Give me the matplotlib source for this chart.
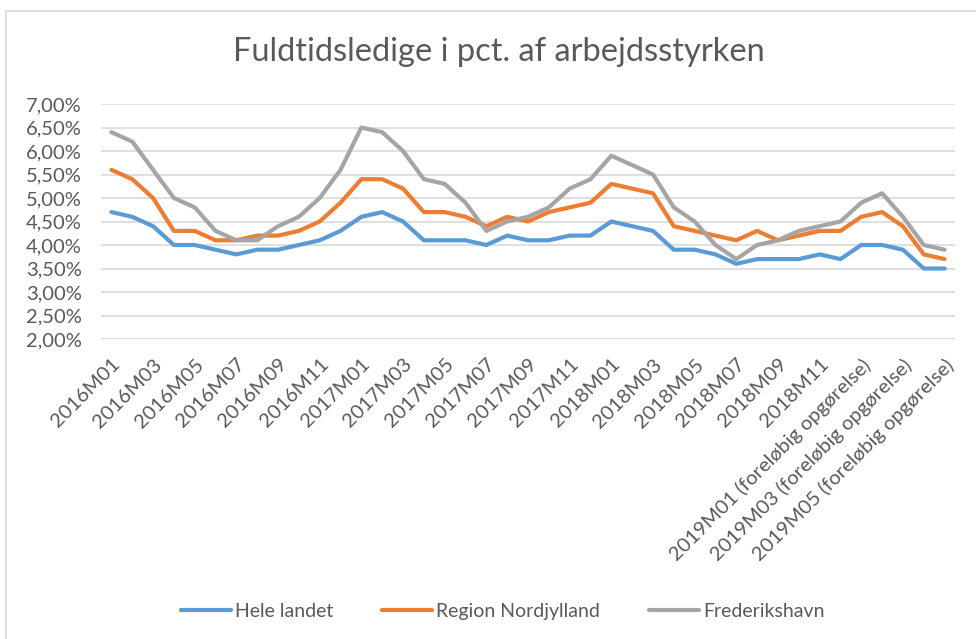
import matplotlib
matplotlib.use("Agg")
import matplotlib.pyplot as plt
from matplotlib.patches import Rectangle
from matplotlib.ticker import FuncFormatter

plt.rcParams['font.family'] = ['Lato', 'DejaVu Sans']

# months 2016M01 .. 2019M05
months = ([f"2016M{m:02d}" for m in range(1, 13)]
          + [f"2017M{m:02d}" for m in range(1, 13)]
          + [f"2018M{m:02d}" for m in range(1, 13)]
          + [f"2019M{m:02d} (foreløbig opgørelse)" for m in range(1, 6)])

hele_landet = [4.7, 4.6, 4.4, 4.0, 4.0, 3.9, 3.8, 3.9, 3.9, 4.0, 4.1, 4.3,
               4.6, 4.7, 4.5, 4.1, 4.1, 4.1, 4.0, 4.2, 4.1, 4.1, 4.2, 4.2,
               4.5, 4.4, 4.3, 3.9, 3.9, 3.8, 3.6, 3.7, 3.7, 3.7, 3.8, 3.7,
               4.0, 4.0, 3.9, 3.5, 3.5]
nordjylland = [5.6, 5.4, 5.0, 4.3, 4.3, 4.1, 4.1, 4.2, 4.2, 4.3, 4.5, 4.9,
               5.4, 5.4, 5.2, 4.7, 4.7, 4.6, 4.4, 4.6, 4.5, 4.7, 4.8, 4.9,
               5.3, 5.2, 5.1, 4.4, 4.3, 4.2, 4.1, 4.3, 4.1, 4.2, 4.3, 4.3,
               4.6, 4.7, 4.4, 3.8, 3.7]
frederikshavn = [6.4, 6.2, 5.6, 5.0, 4.8, 4.3, 4.1, 4.1, 4.4, 4.6, 5.0, 5.6,
                 6.5, 6.4, 6.0, 5.4, 5.3, 4.9, 4.3, 4.5, 4.6, 4.8, 5.2, 5.4,
                 5.9, 5.7, 5.5, 4.8, 4.5, 4.0, 3.7, 4.0, 4.1, 4.3, 4.4, 4.5,
                 4.9, 5.1, 4.6, 4.0, 3.9]

series_names = ["Hele landet", "Region Nordjylland", "Frederikshavn"]
colors = ["#5B9BD5", "#ED7D31", "#A5A5A5"]
text_col = "#595959"

fig = plt.figure(figsize=(9.76, 6.39), dpi=100)
ax = fig.add_axes([101/976, 1-339/639, (955-101)/976, (339-104)/639])

x = list(range(len(months)))
for vals, name, c in zip([hele_landet, nordjylland, frederikshavn], series_names, colors):
    ax.plot(x, vals, color=c, lw=3.0, label=name, solid_capstyle='round', solid_joinstyle='round')

ax.set_xlim(-0.5, len(months) - 0.5)
ax.set_ylim(2.0, 7.0)
ax.set_yticks([2.0 + 0.5*i for i in range(11)])
ax.yaxis.set_major_formatter(FuncFormatter(lambda v, p: f"{v:.2f}%".replace('.', ',')))
ax.grid(axis='y', color='#d9d9d9', lw=1.2)
ax.set_axisbelow(True)
for s in ax.spines.values():
    s.set_visible(False)

ax.set_xticks(x[::2])
ax.set_xticklabels(months[::2], rotation=45, ha='right', va='top', rotation_mode='anchor')
ax.tick_params(axis='x', length=0, pad=12, labelsize=14.5, labelcolor=text_col)
ax.tick_params(axis='y', length=0, pad=14, labelsize=14.5, labelcolor=text_col)

fig.text(0.511, 0.919, "Fuldtidsledige i pct. af arbejdsstyrken", ha='center', va='center',
         fontsize=23.5, color=text_col)

leg = fig.legend(loc='center', bbox_to_anchor=(0.515, 0.043), ncol=3, frameon=False,
                 fontsize=14, handlelength=2.6, columnspacing=2.5, handletextpad=0.2)
for t in leg.get_texts():
    t.set_color(text_col)

fig.patches.append(Rectangle((6/976, -0.1), 1.2, 1-11/639+0.1, transform=fig.transFigure,
                             fill=False, edgecolor='#d9d9d9', lw=1.2))

fig.savefig("out.png", dpi=100, facecolor='white')
